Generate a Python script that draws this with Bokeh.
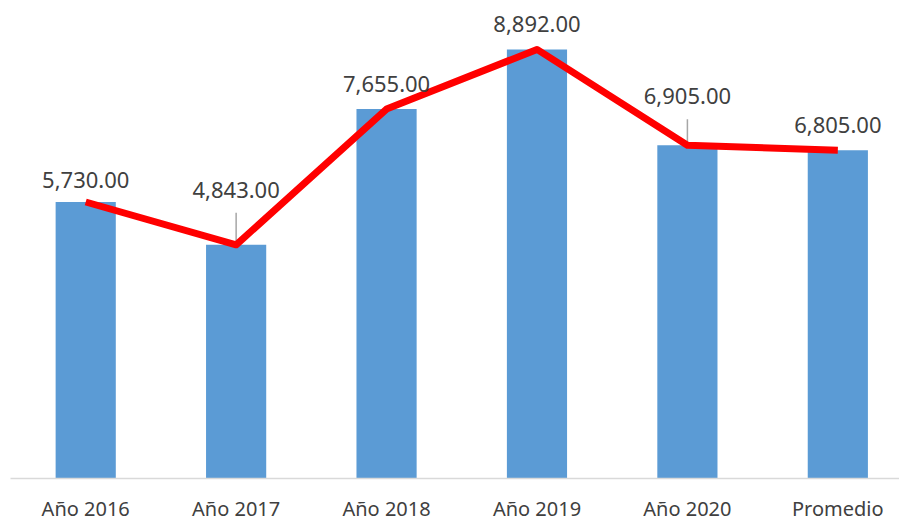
from bokeh.plotting import figure
from bokeh.models import ColumnDataSource, Range1d, FixedTicker
from bokeh.core.properties import value
from bokeh.embed import file_html
from bokeh.resources import INLINE

# ---- data ----
categories = ["Año 2016", "Año 2017", "Año 2018", "Año 2019", "Año 2020", "Promedio"]
values = [5730.0, 4843.0, 7655.0, 8892.0, 6905.0, 6805.0]
value_labels = ["{:,.2f}".format(v) for v in values]

# ---- style / layout ----
label_offsets_px = [-22, -55, -25, -25, -49, -25]   # label centre above bar top
leader_flags = [False, True, False, False, True, False]

Y_END = 9740
FRAME_H = 471
px_per_unit = FRAME_H / Y_END

xs = [i + 0.5 for i in range(len(categories))]

src = ColumnDataSource(dict(x=xs, top=values, label=value_labels,
                            yoff=label_offsets_px))

p = figure(width=899, height=524, output_backend="svg", toolbar_location=None,
           x_range=Range1d(0, 5.91), y_range=Range1d(0, Y_END),
           min_border_left=10, min_border_right=0, min_border_top=8,
           min_border_bottom=45)
p.outline_line_color = None
p.xgrid.visible = False
p.ygrid.visible = False
p.yaxis.visible = False
p.background_fill_color = "white"
p.border_fill_color = "white"

p.vbar(x="x", top="top", width=0.4, bottom=0, source=src,
       fill_color="#5B9BD5", line_color=None)

# leader lines
lx, ly0, ly1 = [], [], []
for x, v, off, f in zip(xs, values, label_offsets_px, leader_flags):
    if f:
        lx.append(x)
        ly0.append(v + 2 / px_per_unit)
        ly1.append(v + (-off - 23) / px_per_unit)
p.segment(x0=lx, x1=lx, y0=ly0, y1=ly1, line_color="#A6A6A6", line_width=1.5)

p.line(x="x", y="top", source=src, line_color="#FF0000", line_width=7,
       line_join="round")

p.text(x="x", y="top", text="label", source=src, y_offset="yoff",
       text_align="center", text_baseline="middle",
       text_font=value("Noto Sans"), text_font_size="22px", text_color="#404040")

ax = p.xaxis[0]
ax.ticker = FixedTicker(ticks=xs)
ax.major_label_overrides = {x: c for x, c in zip(xs, categories)}
ax.axis_line_color = "#D9D9D9"
ax.axis_line_width = 1.5
ax.major_tick_line_color = None
ax.minor_tick_line_color = None
ax.major_label_standoff = 10
ax.major_label_text_font = "Noto Sans"
ax.major_label_text_font_size = "20px"
ax.major_label_text_color = "#404040"

open("out.html", "w").write(file_html(p, INLINE))
